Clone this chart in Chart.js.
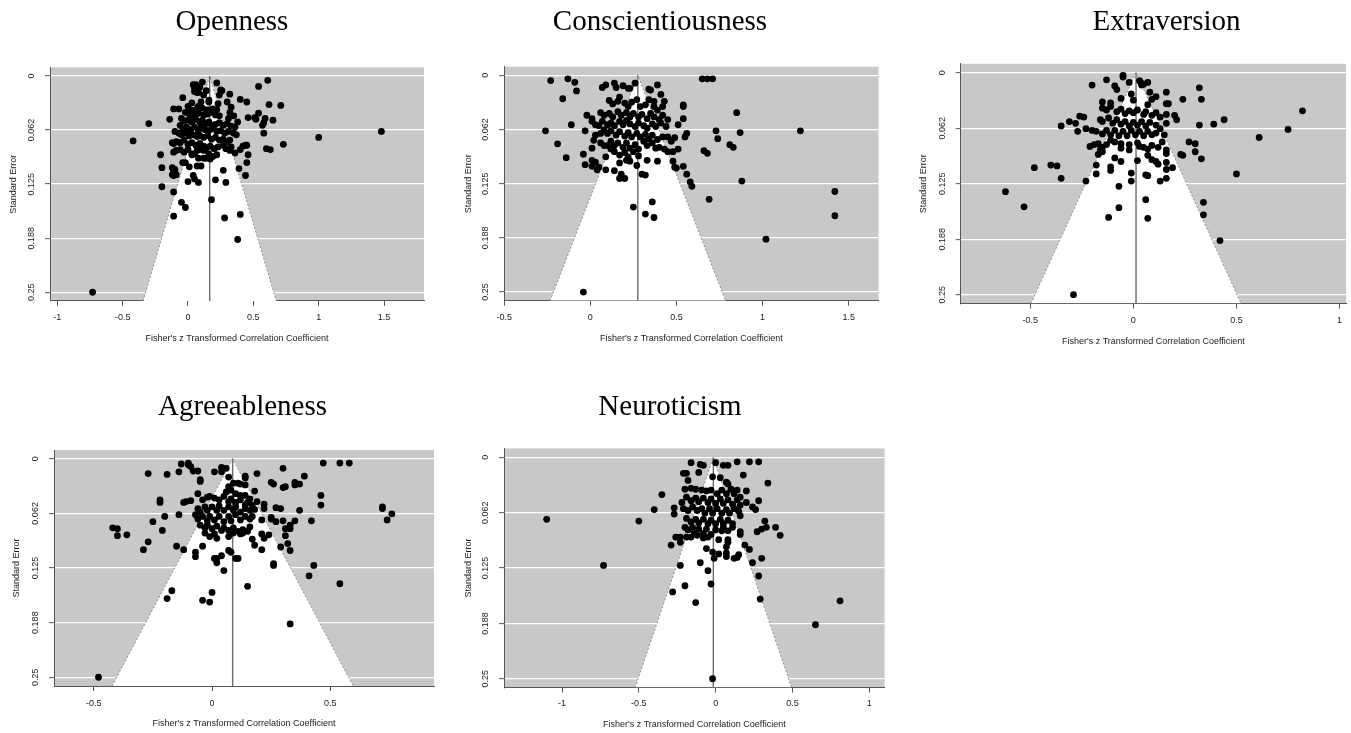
<!DOCTYPE html>
<html><head><meta charset="utf-8">
<script src="https://cdn.jsdelivr.net/npm/chart.js@4.4.1/dist/chart.umd.min.js"></script>
<style>
html,body{margin:0;padding:0;background:#fff;overflow:hidden;width:1351px;height:733px;position:relative;}
canvas{position:absolute;}
</style></head><body>
<script>
// ---------------- DATA ----------------
const traitNames = ['Openness','Conscientiousness','Extraversion','Agreeableness','Neuroticism'];
const pooledZ = [0.166, 0.276, 0.013, 0.087, -0.015];
const seTicks = [0, 0.0625, 0.125, 0.1875, 0.25];
const seTickLabels = ['0','0.062','0.125','0.188','0.25'];
const opennessXTicks = [-1,-0.5,0,0.5,1,1.5];
const conscientiousnessXTicks = [-0.5,0,0.5,1,1.5];
const extraversionXTicks = [-0.5,0,0.5,1];
const agreeablenessXTicks = [-0.5,0,0.5];
const neuroticismXTicks = [-1,-0.5,0,0.5,1];
const xAxisTitle = "Fisher's z Transformed Correlation Coefficient";
const yAxisTitle = 'Standard Error';

// [Fisher z, standard error]
const opennessPoints = [
[-0.73,0.250],[-0.42,0.075],[-0.30,0.055],[1.48,0.064],[1.00,0.071],[0.73,0.079],[0.71,0.034],[0.61,0.005],[0.54,0.012],[0.62,0.033],
[0.45,0.030],[0.40,0.027],[0.54,0.043],[0.65,0.051],[0.59,0.049],[0.58,0.054],[0.57,0.057],[0.51,0.048],[0.46,0.048],[0.52,0.050],
[0.58,0.066],[0.60,0.084],[0.63,0.085],[0.38,0.053],[0.45,0.080],[0.44,0.080],[0.42,0.081],[0.40,0.085],[0.46,0.091],[0.45,0.100],
[0.44,0.115],[0.39,0.107],[0.27,0.109],[0.29,0.123],[0.21,0.120],[0.18,0.143],[0.40,0.160],[0.28,0.164],[0.38,0.189],[-0.05,0.146],
[-0.02,0.152],[-0.11,0.162],[-0.11,0.134],[-0.20,0.128],[-0.20,0.106],[-0.21,0.091],[-0.12,0.106],[-0.11,0.109],[-0.10,0.108],[-0.12,0.114],
[-0.11,0.115],[-0.09,0.114],[-0.14,0.050],[-0.11,0.038],[-0.07,0.038],[-0.04,0.025],[0.00,0.122],[0.01,0.105],[0.04,0.115],[0.05,0.119],
[0.08,0.123],[0.07,0.104],[0.10,0.104],[-0.04,0.100],[-0.02,0.100],[0.03,0.091],
[0.11,0.007],[0.04,0.010],[0.05,0.011],[0.06,0.010],[0.05,0.014],[0.07,0.014],[0.09,0.013],[0.05,0.018],[0.07,0.019],[0.08,0.019],
[0.22,0.008],[0.25,0.016],[0.26,0.017],[0.32,0.021],[0.24,0.022],[0.12,0.022],[0.14,0.017],
[0.10,0.030],[0.16,0.028],[0.16,0.030],[0.03,0.031],[0.30,0.030],[0.33,0.036],[0.23,0.032],
[0.00,0.035],[0.02,0.039],[0.04,0.040],[0.07,0.037],[0.08,0.035],
[0.11,0.037],[0.14,0.039],[0.16,0.039],[0.19,0.038],[0.22,0.039],
[-0.02,0.042],[0.01,0.044],[0.03,0.047],[0.05,0.045],[0.08,0.043],
[0.12,0.045],[0.15,0.044],[0.18,0.042],[0.21,0.045],[0.24,0.046],
[0.32,0.042],[0.35,0.046],[0.31,0.049],
[-0.05,0.049],[-0.03,0.052],[0.00,0.051],[0.03,0.053],[0.06,0.050],[0.09,0.053],
[0.11,0.051],[0.14,0.055],[0.16,0.053],[0.18,0.057],[0.21,0.056],[0.24,0.054],
[0.27,0.057],[0.30,0.055],[0.33,0.058],[0.36,0.059],
[-0.06,0.057],[-0.04,0.061],[-0.01,0.059],[0.02,0.062],[0.05,0.059],[0.08,0.063],
[0.10,0.059],[0.13,0.062],[0.16,0.063],[0.19,0.061],[0.22,0.064],[0.25,0.063],[0.28,0.066],[0.31,0.064],[0.35,0.066],[0.37,0.068],
[-0.10,0.064],[-0.07,0.066],[-0.05,0.068],[-0.02,0.066],[0.01,0.069],[0.04,0.068],[0.07,0.070],[0.09,0.069],[0.12,0.071],[0.15,0.069],
[0.18,0.073],[0.21,0.071],[0.24,0.074],[0.27,0.073],[0.30,0.076],[0.32,0.074],
[-0.12,0.077],[-0.09,0.076],[-0.06,0.077],[-0.03,0.074],[0.00,0.079],[0.03,0.077],[0.06,0.080],[0.09,0.078],[0.12,0.081],[0.14,0.083],
[0.17,0.081],[0.20,0.084],[0.23,0.082],[0.27,0.080],[0.29,0.084],[0.32,0.086],
[-0.09,0.086],[-0.06,0.085],[-0.03,0.088],[0.00,0.085],[0.03,0.090],[0.07,0.086],[0.09,0.085],[0.12,0.086],[0.16,0.090],[0.19,0.093],
[0.22,0.091],[0.14,0.095],[0.12,0.095],[0.17,0.096],[0.05,0.090],[0.08,0.095],[0.33,0.082],[0.36,0.089],
[-0.11,0.078],[-0.11,0.088]
];

const conscientiousnessPoints = [
[-0.23,0.006],[-0.13,0.004],[-0.09,0.008],[-0.08,0.018],[-0.16,0.027],[-0.11,0.057],[-0.26,0.064],[-0.19,0.079],[-0.14,0.095],[-0.04,0.091],
[-0.03,0.103],[0.01,0.098],[0.01,0.105],[0.03,0.100],[0.04,0.109],[0.05,0.106],[0.09,0.109],[-0.03,0.064],[-0.02,0.046],[0.01,0.050],
[0.01,0.053],[0.05,0.058],[0.02,0.075],[0.01,0.084],[0.06,0.067],
[0.07,0.014],[0.09,0.011],[0.14,0.009],[0.15,0.014],[0.19,0.012],[0.22,0.015],[0.23,0.015],[0.26,0.009],[0.34,0.016],[0.35,0.017],
[0.39,0.011],[0.41,0.022],[0.37,0.030],[0.43,0.030],[0.54,0.034],[0.65,0.004],[0.68,0.004],[0.71,0.004],[0.85,0.043],[1.22,0.064],
[1.42,0.134],[1.42,0.162],[1.02,0.189],[0.88,0.122],[0.87,0.066],[0.81,0.080],[0.83,0.083],[0.73,0.064],[0.74,0.073],[0.66,0.087],
[0.68,0.090],[0.56,0.067],[0.55,0.071],[0.49,0.072],[0.51,0.085],[0.48,0.088],[0.45,0.088],[0.48,0.099],[0.49,0.106],[0.50,0.107],
[0.54,0.105],[0.56,0.114],[0.58,0.123],[0.59,0.128],[0.69,0.143],[0.54,0.050],[0.51,0.057],[0.47,0.076],[0.54,0.036],[0.36,0.146],
[0.32,0.160],[0.37,0.164],[0.25,0.152],[-0.04,0.250],[0.30,0.114],[0.32,0.115],[0.17,0.119],[0.20,0.119],[0.18,0.114],[0.14,0.110],
[0.27,0.104],[0.22,0.097],[0.23,0.099],[0.17,0.101],[0.39,0.099],[0.33,0.098],
[0.11,0.029],[0.13,0.033],[0.16,0.030],[0.17,0.025],[0.20,0.032],[0.22,0.036],[0.24,0.031],[0.27,0.028],[0.29,0.036],[0.32,0.034],
[0.34,0.028],[0.37,0.036],[0.39,0.040],[0.42,0.036],
[0.06,0.043],[0.08,0.046],[0.11,0.044],[0.13,0.048],[0.16,0.042],[0.18,0.046],[0.21,0.043],[0.23,0.048],[0.25,0.044],[0.28,0.048],
[0.30,0.045],[0.33,0.050],[0.35,0.044],[0.37,0.048],[0.40,0.051],[0.42,0.046],[0.45,0.051],
[0.07,0.053],[0.10,0.057],[0.12,0.055],[0.14,0.058],[0.17,0.053],[0.19,0.057],[0.21,0.052],[0.23,0.056],[0.26,0.059],[0.28,0.055],
[0.31,0.058],[0.33,0.061],[0.36,0.056],[0.38,0.059],[0.41,0.055],[0.44,0.059],
[0.10,0.067],[0.12,0.064],[0.15,0.069],[0.17,0.065],[0.20,0.070],[0.22,0.066],[0.24,0.071],[0.27,0.067],[0.29,0.071],[0.32,0.068],
[0.34,0.073],[0.36,0.069],[0.39,0.074],[0.42,0.071],[0.45,0.071],
[0.12,0.076],[0.14,0.081],[0.16,0.078],[0.19,0.083],[0.21,0.078],[0.23,0.084],[0.26,0.080],[0.28,0.085],[0.31,0.076],[0.33,0.081],
[0.36,0.078],[0.38,0.084],[0.40,0.083],[0.43,0.085],
[0.14,0.088],[0.17,0.092],[0.20,0.089],[0.22,0.094],[0.25,0.088],[0.28,0.093],[0.21,0.098],
[0.03,0.057],[0.08,0.063],[0.03,0.069],[0.06,0.078],[0.08,0.081],[0.10,0.081],[0.12,0.085],[0.09,0.094]
];

const extraversionPoints = [
[-0.62,0.134],[-0.53,0.151],[-0.48,0.107],[-0.40,0.104],[-0.37,0.105],[-0.35,0.119],[-0.35,0.060],[-0.31,0.055],[-0.28,0.057],[-0.27,0.066],
[-0.26,0.049],[-0.24,0.050],[-0.29,0.250],[-0.23,0.122],[-0.18,0.104],[-0.18,0.114],[-0.20,0.014],[-0.13,0.008],[-0.05,0.005],[-0.05,0.003],
[-0.12,0.163],[-0.07,0.152],[-0.07,0.128],[-0.11,0.106],[-0.11,0.110],[-0.09,0.096],[-0.06,0.100],[-0.01,0.113],[-0.01,0.122],[0.02,0.099],
[0.06,0.143],[0.07,0.164],[0.06,0.115],[0.07,0.116],[0.13,0.122],[0.16,0.119],[0.16,0.109],[0.16,0.101],[0.19,0.107],[0.16,0.091],
[0.16,0.087],[0.16,0.022],[0.16,0.035],[0.17,0.035],[0.24,0.030],[0.32,0.017],[0.33,0.030],[0.44,0.053],[0.39,0.058],[0.32,0.059],
[0.33,0.097],[0.30,0.080],[0.30,0.089],[0.27,0.078],[0.23,0.092],[0.24,0.093],[0.16,0.047],[0.16,0.057],[0.20,0.048],[0.21,0.053],
[0.34,0.146],[0.34,0.160],[0.42,0.189],[0.50,0.114],[0.61,0.073],[0.75,0.064],[0.82,0.043],
[-0.09,0.015],[-0.08,0.019],[-0.02,0.011],[0.03,0.009],[0.04,0.012],[0.05,0.013],[0.07,0.011],[0.08,0.022],[0.11,0.027],[0.09,0.030],
[0.07,0.036],[0.04,0.014],[-0.01,0.024],[0.00,0.031],[-0.06,0.029],[-0.11,0.034],[-0.15,0.033],[-0.15,0.040],[-0.13,0.042],[-0.11,0.038],
[-0.08,0.044],[-0.06,0.041],[-0.04,0.046],[-0.02,0.043],[0.00,0.045],[0.02,0.042],[0.05,0.047],[0.06,0.044],[0.09,0.048],[0.11,0.045],[0.13,0.050],
[-0.16,0.053],[-0.15,0.055],[-0.12,0.051],[-0.10,0.057],[-0.08,0.053],[-0.06,0.058],[-0.04,0.055],[-0.02,0.060],[0.00,0.056],[0.02,0.059],
[0.04,0.055],[0.06,0.060],[0.08,0.056],[0.11,0.059],[0.13,0.063],
[-0.23,0.063],[-0.20,0.065],[-0.18,0.066],[-0.15,0.069],[-0.13,0.065],[-0.11,0.070],[-0.09,0.065],[-0.07,0.071],[-0.05,0.066],[-0.03,0.071],
[-0.01,0.065],[0.01,0.070],[0.03,0.066],[0.05,0.071],[0.07,0.066],[0.09,0.070],[0.11,0.068],[0.15,0.070],
[-0.21,0.083],[-0.19,0.081],[-0.17,0.080],[-0.15,0.084],[-0.13,0.081],[-0.11,0.076],[-0.09,0.078],[-0.06,0.080],[-0.06,0.085],[-0.02,0.081],
[-0.02,0.087],[0.02,0.079],[0.03,0.083],[0.05,0.084],[0.07,0.086],[0.09,0.082],[0.12,0.084],[0.14,0.078],
[-0.16,0.087],[-0.17,0.092],[-0.15,0.089],[0.07,0.093],[0.09,0.098],[0.11,0.100],[0.12,0.103]
];

const agreeablenessPoints = [
[-0.48,0.250],[-0.42,0.079],[-0.40,0.080],[-0.40,0.088],[-0.36,0.087],[-0.25,0.072],[-0.27,0.095],[-0.29,0.104],[-0.21,0.082],[-0.20,0.066],
[-0.22,0.047],[-0.22,0.050],[-0.27,0.017],[-0.19,0.018],[-0.14,0.015],[-0.13,0.006],[-0.10,0.005],[-0.10,0.007],[-0.09,0.009],[-0.08,0.014],
[-0.06,0.014],[-0.05,0.024],[-0.05,0.026],[0.01,0.015],[0.04,0.010],[0.04,0.015],[0.06,0.011],[-0.12,0.050],[-0.11,0.049],[-0.09,0.048],
[-0.14,0.064],[-0.15,0.100],[-0.12,0.104],[-0.07,0.107],[-0.07,0.112],[-0.04,0.100],[-0.17,0.151],[-0.19,0.160],[-0.04,0.162],[-0.01,0.164],
[0.00,0.153],[0.01,0.114],[0.02,0.114],[0.02,0.119],[0.04,0.111],[0.05,0.128],[0.07,0.105],[0.08,0.107],[0.10,0.114],[0.11,0.114],
[0.15,0.146],[0.33,0.189],[0.43,0.122],[0.41,0.134],[0.54,0.143],[0.26,0.122],[0.26,0.120],[0.33,0.105],[0.32,0.097],[0.29,0.101],
[0.31,0.088],[0.31,0.080],[0.33,0.080],[0.33,0.076],[0.35,0.071],[0.42,0.071],[0.37,0.059],[0.30,0.071],[0.27,0.072],[0.25,0.069],
[0.25,0.067],[0.27,0.056],[0.29,0.057],[0.30,0.033],[0.31,0.032],[0.30,0.011],[0.35,0.027],[0.35,0.030],[0.37,0.029],[0.39,0.020],
[0.46,0.042],[0.46,0.053],[0.47,0.005],[0.54,0.005],[0.58,0.005],[0.72,0.055],[0.72,0.057],[0.76,0.063],[0.74,0.070],[0.25,0.027],
[0.26,0.029],[0.19,0.017],[0.18,0.037],[0.22,0.052],[0.22,0.057],[0.21,0.070],[0.24,0.087],[0.22,0.091],[0.18,0.099],[0.21,0.104],
[0.17,0.092],[0.21,0.086],
[0.14,0.020],[0.14,0.022],[0.07,0.021],[0.07,0.032],[0.09,0.028],[0.11,0.028],[0.12,0.029],[0.14,0.030],[0.06,0.038],[0.08,0.036],
[0.10,0.040],[0.12,0.042],[0.14,0.042],[0.16,0.046],
[-0.06,0.040],[-0.04,0.047],[-0.02,0.044],[-0.01,0.043],[0.01,0.045],[0.03,0.047],[0.05,0.043],[0.07,0.049],[0.08,0.046],[0.10,0.050],
[0.12,0.047],[0.14,0.053],[0.15,0.050],[0.17,0.053],[0.19,0.049],
[-0.06,0.057],[-0.05,0.061],[-0.03,0.055],[-0.02,0.059],[0.00,0.055],[0.02,0.059],[0.03,0.054],[0.05,0.059],[0.07,0.055],[0.09,0.059],
[0.10,0.055],[0.12,0.061],[0.14,0.057],[0.16,0.059],[0.18,0.058],
[-0.07,0.064],[-0.06,0.069],[-0.04,0.066],[-0.02,0.071],[-0.01,0.066],[0.01,0.070],[0.03,0.066],[0.05,0.072],[0.07,0.066],[0.08,0.071],
[0.10,0.064],[0.12,0.070],[0.14,0.066],[0.16,0.069],[0.17,0.066],
[-0.05,0.076],[-0.03,0.079],[-0.02,0.076],[0.00,0.080],[0.02,0.077],[0.04,0.082],[0.05,0.079],[0.07,0.082],[0.09,0.079],[0.11,0.083],
[0.13,0.081],[0.15,0.083],[0.16,0.078],
[-0.03,0.085],[-0.01,0.089],[0.01,0.086],[0.02,0.091],[0.07,0.089],[0.09,0.085],[0.12,0.086],[0.13,0.085]
];

const neuroticismPoints = [
[-1.10,0.070],[-0.73,0.122],[-0.50,0.072],[-0.40,0.059],[-0.35,0.042],[-0.27,0.057],[-0.27,0.064],[-0.29,0.099],[-0.26,0.090],[-0.23,0.090],
[-0.23,0.096],[-0.19,0.090],[-0.28,0.152],[-0.23,0.122],[-0.20,0.145],[-0.13,0.164],[-0.10,0.119],[-0.05,0.128],[-0.03,0.143],[-0.02,0.250],
[-0.06,0.103],[-0.02,0.107],[-0.01,0.114],[0.02,0.109],[0.07,0.101],[0.07,0.108],[0.07,0.112],[0.12,0.114],[0.14,0.113],[0.15,0.110],
[0.19,0.099],[0.22,0.104],[0.24,0.119],[0.28,0.134],[0.29,0.160],[0.30,0.114],[0.65,0.189],[0.81,0.162],[0.42,0.088],[0.39,0.079],
[0.33,0.079],[0.32,0.072],[0.30,0.081],[0.27,0.084],[0.26,0.059],[0.24,0.056],[0.28,0.049],[0.34,0.029],[0.28,0.005],[0.22,0.005],
[0.14,0.005],[0.18,0.020],[0.20,0.038],[0.16,0.045],[0.20,0.051],[0.16,0.066],[0.16,0.084],[0.16,0.087],[0.08,0.093],[0.08,0.096],
[0.02,0.093],[0.04,0.083],[-0.21,0.018],[-0.19,0.018],[-0.16,0.006],[-0.10,0.008],[-0.08,0.009],[0.00,0.006],[0.05,0.009],[0.08,0.009],
[-0.11,0.017],[-0.18,0.026],[-0.02,0.022],[0.03,0.023],[0.07,0.028],[0.08,0.030],[0.14,0.037],
[-0.20,0.036],[-0.16,0.035],[-0.13,0.036],[-0.09,0.037],[-0.06,0.038],[-0.03,0.037],[0.01,0.041],[0.04,0.037],[0.07,0.041],[0.10,0.036],[0.12,0.041],
[-0.19,0.045],[-0.16,0.049],[-0.13,0.046],[-0.11,0.050],[-0.08,0.046],[-0.05,0.051],[-0.03,0.047],[0.00,0.052],[0.03,0.047],[0.05,0.052],
[0.08,0.048],[0.11,0.053],[0.14,0.048],[0.16,0.054],
[-0.22,0.051],[-0.21,0.058],[-0.18,0.060],[-0.15,0.056],[-0.12,0.060],[-0.09,0.058],[-0.07,0.063],[-0.04,0.058],[-0.02,0.063],[0.01,0.058],
[0.04,0.063],[0.07,0.059],[0.09,0.063],[0.12,0.058],[0.15,0.061],
[-0.19,0.069],[-0.16,0.073],[-0.13,0.070],[-0.11,0.074],[-0.08,0.070],[-0.05,0.075],[-0.03,0.071],[0.00,0.075],[0.03,0.070],[0.05,0.075],
[0.08,0.071],[0.11,0.075],
[-0.20,0.079],[-0.18,0.082],[-0.15,0.079],[-0.14,0.085],[-0.11,0.081],[-0.08,0.086],[-0.06,0.081],[-0.03,0.087],[0.00,0.082],[0.05,0.079],
[0.08,0.083],[0.11,0.079],
[-0.16,0.090],[-0.12,0.088],[-0.08,0.091],[-0.05,0.090]
];

const allPoints = [opennessPoints, conscientiousnessPoints, extraversionPoints, agreeablenessPoints, neuroticismPoints];
const allXTicks = [opennessXTicks, conscientiousnessXTicks, extraversionXTicks, agreeablenessXTicks, neuroticismXTicks];

// --------------- LAYOUT (page pixels) ---------------
const panelLayout = [
 {plotL:50,    plotR:424,   plotT:67.4,  plotB:300.9, xMin:-1.056, xMax:1.806, titleCx:232,   top:0,   titleBase:32.3, yTitleX:13.3,  xTickY:317.7, xTitleY:338.5},
 {plotL:504,   plotR:881.7, plotT:66.7,  plotB:300.7, xMin:-0.501, xMax:1.674, titleCx:660,   top:0,   titleBase:32.3, yTitleX:468.3, xTickY:317.7, xTitleY:338.5},
 {plotL:960.7, plotR:1346,  plotT:63.8,  plotB:303.6, xMin:-0.837, xMax:1.031, titleCx:1166.7,top:0,   titleBase:32.3, yTitleX:923.3, xTickY:321,   xTitleY:342},
 {plotL:54,    plotR:434,   plotT:450,   plotB:686,   xMin:-0.668, xMax:0.938, titleCx:242.5, top:380, titleBase:417,  yTitleX:16.7,  xTickY:703.3, xTitleY:723.5},
 {plotL:504,   plotR:887.7, plotT:448.5, plotB:687.6, xMin:-1.378, xMax:1.100, titleCx:670,   top:380, titleBase:417,  yTitleX:468.3, xTickY:703.3, xTitleY:724.5}
];
const SE_MIN = -0.01, SE_MAX = 0.26, Z95 = 1.96;
const TITLE_FONT = '"Liberation Serif","Times New Roman",serif';
const AXIS_FONT = '"Liberation Sans",Arial,Helvetica,sans-serif';
const TITLE_SIZE = 29, AX_SIZE = 9, TICK_LEN = 5;
const GRAY_BG = '#c8c8c8', AXIS_COL = '#555555', TEXT_COL = '#1a1a1a';

const measureCtx = document.createElement('canvas').getContext('2d');
measureCtx.font = AX_SIZE + 'px ' + AXIS_FONT;
const widestSE = Math.max(...seTickLabels.map(s => measureCtx.measureText(s).width));

const plotBackground = {
  id: 'plotBackground',
  beforeDraw(chart) {
    const {ctx, chartArea: a} = chart;
    ctx.save();
    ctx.fillStyle = GRAY_BG;
    ctx.fillRect(a.left, a.top, a.right - a.left, a.bottom - a.top);
    ctx.restore();
  }
};

traitNames.forEach((name, i) => {
  const L = panelLayout[i];
  const est = pooledZ[i];
  const xt = allXTicks[i];
  const cl = Math.floor(Math.min(L.yTitleX - 12, 2 * L.titleCx - L.plotR));
  const cw = Math.round(2 * (L.titleCx - cl));
  const ct = L.top;
  const ch = Math.round(L.plotB - ct + 48);
  const xAxisH = ch - (L.plotB - ct);
  const yAxisW = L.plotL - cl;
  const rightW = cl + cw - L.plotR;
  const lh = TITLE_SIZE * 1.2;
  const titleMid = L.titleBase - 0.3375 * TITLE_SIZE;
  const tPadTop = titleMid - ct - lh / 2;
  const tPadBottom = L.plotT - ct - tPadTop - lh;
  const axLh = AX_SIZE * 1.2;

  const cv = document.createElement('canvas');
  cv.width = cw; cv.height = ch;
  cv.style.left = cl + 'px'; cv.style.top = ct + 'px';
  cv.style.width = cw + 'px'; cv.style.height = ch + 'px';
  document.body.appendChild(cv);

  const pts = allPoints[i].map(p => ({x: p[0], y: p[1]}));
  new Chart(cv, {
    type: 'scatter',
    data: {
      datasets: [
        {label: name, data: pts, xAxisID: 'x', yAxisID: 'y', pointRadius: 3.4, pointHoverRadius: 3.4,
         backgroundColor: '#000', borderColor: '#000', borderWidth: 0, order: 0},
        {type: 'line', label: 'estimate', data: [{x: est, y: 0}, {x: est, y: SE_MAX}], xAxisID: 'x', yAxisID: 'y',
         borderColor: '#6a6a6a', borderWidth: 1.4, pointRadius: 0, fill: false, order: 1},
        {type: 'line', label: 'funnel', xAxisID: 'x', yAxisID: 'y',
         data: [{x: est - Z95 * SE_MAX, y: SE_MAX}, {x: est, y: 0}, {x: est + Z95 * SE_MAX, y: SE_MAX}],
         borderColor: '#8c8c8c', borderWidth: 1, borderDash: [2, 2], pointRadius: 0, tension: 0,
         backgroundColor: '#ffffff', fill: {value: SE_MAX}, order: 2}
      ]
    },
    options: {
      responsive: false, animation: false, devicePixelRatio: 1, events: [],
      layout: {padding: 0},
      plugins: {
        legend: {display: false}, tooltip: {enabled: false},
        title: {display: true, text: name, color: '#000',
                font: {family: TITLE_FONT, size: TITLE_SIZE, weight: 'normal', lineHeight: 1.2},
                padding: {top: tPadTop, bottom: tPadBottom}}
      },
      scales: {
        x: {
          type: 'linear', position: 'bottom', min: L.xMin, max: L.xMax,
          afterBuildTicks: s => { s.ticks = xt.map(v => ({value: v})); },
          afterFit: s => { s.height = xAxisH; },
          ticks: {autoSkip: false, maxRotation: 0, minRotation: 0, color: TEXT_COL,
                  padding: L.xTickY - L.plotB - TICK_LEN - axLh / 2,
                  font: {family: AXIS_FONT, size: AX_SIZE},
                  callback: (v, idx) => String(xt[idx])},
          grid: {drawOnChartArea: false, drawTicks: true, tickLength: TICK_LEN, tickColor: AXIS_COL, tickWidth: 1},
          border: {display: true, color: AXIS_COL, width: 1},
          title: {display: true, text: xAxisTitle, color: TEXT_COL, font: {family: AXIS_FONT, size: AX_SIZE},
                  padding: {top: 0, bottom: (ct + ch) - L.xTitleY - axLh / 2}}
        },
        y: {
          type: 'linear', position: 'left', reverse: true, min: SE_MIN, max: SE_MAX,
          afterBuildTicks: s => { s.ticks = seTicks.map(v => ({value: v})); },
          afterFit: s => { s.width = yAxisW; },
          ticks: {autoSkip: false, minRotation: 90, maxRotation: 90, crossAlign: 'center', color: TEXT_COL,
                  padding: 18 - TICK_LEN - widestSE / 2,
                  font: {family: AXIS_FONT, size: AX_SIZE},
                  callback: (v, idx) => seTickLabels[idx]},
          grid: {color: '#ffffff', lineWidth: 1.3, drawOnChartArea: true, drawTicks: true, tickLength: TICK_LEN, tickColor: AXIS_COL, tickWidth: 1},
          border: {display: true, color: AXIS_COL, width: 1},
          title: {display: true, text: yAxisTitle, color: TEXT_COL, font: {family: AXIS_FONT, size: AX_SIZE},
                  padding: {top: L.yTitleX - cl - axLh / 2, bottom: 0}}
        },
        yr: {
          position: 'right', display: true,
          grid: {display: false}, border: {display: false}, ticks: {display: false},
          afterFit: s => { s.width = rightW; }
        }
      }
    },
    plugins: [plotBackground]
  });
});
</script>
</body></html>
